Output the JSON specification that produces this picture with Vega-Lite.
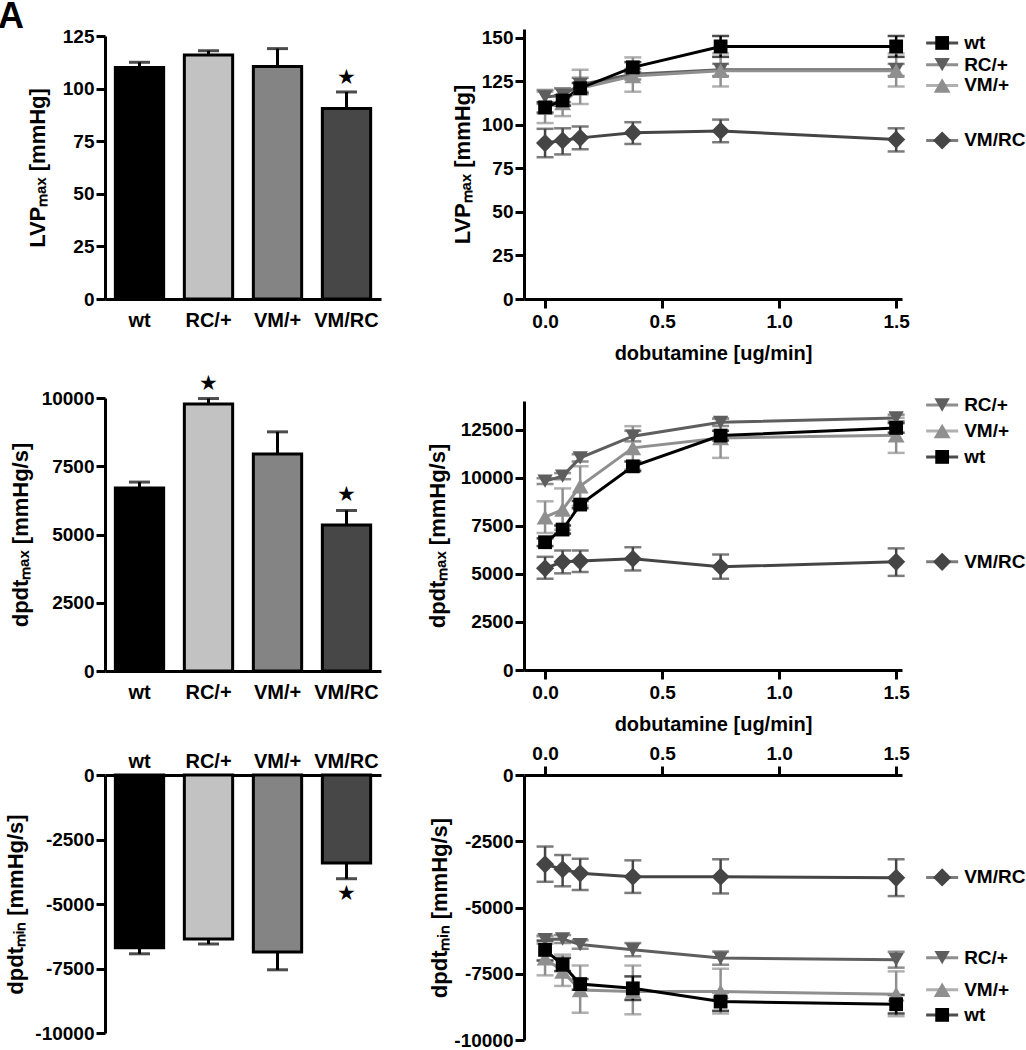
{
"$schema": "https://vega.github.io/schema/vega-lite/v6.json",
"padding": {"left": -3, "top": -1, "right": 0, "bottom": 0},
"title": {"text": "A", "anchor": "start", "frame": "bounds", "fontSize": 36, "fontWeight": "bold", "font": "Liberation Sans", "color": "black", "dx": -6, "offset": -9},
"config": {
  "view": {"stroke": null},
  "font": "Liberation Sans",
  "axis": {"grid": false, "domainColor": "black", "domainWidth": 3, "tickColor": "black", "tickWidth": 3, "tickSize": 9, "labelFont": "Liberation Sans", "labelFontWeight": "bold", "labelFontSize": 19, "labelColor": "black", "labelPadding": 2, "titleFont": "Liberation Sans", "titleFontWeight": "bold", "titleFontSize": 22, "titleColor": "black"}
},
"datasets": {
  "lvp_bar": [
    {"group": "wt", "mean": 110, "err_end": 112.5, "sig": false},
    {"group": "RC/+", "mean": 116, "err_end": 118, "sig": false},
    {"group": "VM/+", "mean": 110.5, "err_end": 119, "sig": false},
    {"group": "VM/RC", "mean": 90.5, "err_end": 98.4, "sig": true}
  ],
  "dpmax_bar": [
    {"group": "wt", "mean": 6700, "err_end": 6920, "sig": false},
    {"group": "RC/+", "mean": 9780, "err_end": 9980, "sig": true},
    {"group": "VM/+", "mean": 7950, "err_end": 8760, "sig": false},
    {"group": "VM/RC", "mean": 5350, "err_end": 5880, "sig": true}
  ],
  "dpmin_bar": [
    {"group": "wt", "mean": -6700, "err_end": -6930, "sig": false},
    {"group": "RC/+", "mean": -6360, "err_end": -6550, "sig": false},
    {"group": "VM/+", "mean": -6860, "err_end": -7550, "sig": false},
    {"group": "VM/RC", "mean": -3410, "err_end": -4020, "sig": true}
  ],
  "lvp_line": [
    {"series": "VM/RC", "dose": 0, "mean": 89.5, "lo": 81.4, "hi": 97.7},
    {"series": "VM/RC", "dose": 0.075, "mean": 91, "lo": 83, "hi": 98},
    {"series": "VM/RC", "dose": 0.15, "mean": 92.5, "lo": 86, "hi": 99},
    {"series": "VM/RC", "dose": 0.375, "mean": 95.5, "lo": 89, "hi": 101.5},
    {"series": "VM/RC", "dose": 0.75, "mean": 96.5, "lo": 90, "hi": 103},
    {"series": "VM/RC", "dose": 1.5, "mean": 91.5, "lo": 84.7, "hi": 98},
    {"series": "RC/+", "dose": 0, "mean": 116, "lo": 112, "hi": 120},
    {"series": "RC/+", "dose": 0.075, "mean": 117, "lo": 113, "hi": 121},
    {"series": "RC/+", "dose": 0.15, "mean": 123, "lo": 119, "hi": 127},
    {"series": "RC/+", "dose": 0.375, "mean": 129, "lo": 126, "hi": 132},
    {"series": "RC/+", "dose": 0.75, "mean": 131.6, "lo": 128, "hi": 135},
    {"series": "RC/+", "dose": 1.5, "mean": 131.6, "lo": 128, "hi": 135},
    {"series": "VM/+", "dose": 0, "mean": 110, "lo": 101, "hi": 119},
    {"series": "VM/+", "dose": 0.075, "mean": 112.6, "lo": 105, "hi": 121},
    {"series": "VM/+", "dose": 0.15, "mean": 121, "lo": 112, "hi": 131.6},
    {"series": "VM/+", "dose": 0.375, "mean": 128, "lo": 119, "hi": 138.7},
    {"series": "VM/+", "dose": 0.75, "mean": 131, "lo": 122, "hi": 141},
    {"series": "VM/+", "dose": 1.5, "mean": 131, "lo": 122, "hi": 141},
    {"series": "wt", "dose": 0, "mean": 110, "lo": 107, "hi": 113},
    {"series": "wt", "dose": 0.075, "mean": 114, "lo": 111, "hi": 117},
    {"series": "wt", "dose": 0.15, "mean": 121, "lo": 118, "hi": 124},
    {"series": "wt", "dose": 0.375, "mean": 133, "lo": 130, "hi": 136},
    {"series": "wt", "dose": 0.75, "mean": 145, "lo": 139, "hi": 151},
    {"series": "wt", "dose": 1.5, "mean": 145, "lo": 139, "hi": 151}
  ],
  "lvp_lab": [
    {"series": "wt", "at": 147},
    {"series": "RC/+", "at": 134.5},
    {"series": "VM/+", "at": 122.6},
    {"series": "VM/RC", "at": 91}
  ],
  "dpmax_line": [
    {"series": "VM/RC", "dose": 0, "mean": 5290, "lo": 4750, "hi": 5890},
    {"series": "VM/RC", "dose": 0.075, "mean": 5630, "lo": 5030, "hi": 6220},
    {"series": "VM/RC", "dose": 0.15, "mean": 5670, "lo": 5100, "hi": 6220},
    {"series": "VM/RC", "dose": 0.375, "mean": 5790, "lo": 5180, "hi": 6390},
    {"series": "VM/RC", "dose": 0.75, "mean": 5370, "lo": 4750, "hi": 6010},
    {"series": "VM/RC", "dose": 1.5, "mean": 5630, "lo": 4900, "hi": 6330},
    {"series": "RC/+", "dose": 0, "mean": 9830, "lo": 9680, "hi": 9980},
    {"series": "RC/+", "dose": 0.075, "mean": 10090, "lo": 9930, "hi": 10250},
    {"series": "RC/+", "dose": 0.15, "mean": 11040, "lo": 10850, "hi": 11230},
    {"series": "RC/+", "dose": 0.375, "mean": 12170, "lo": 11900, "hi": 12450},
    {"series": "RC/+", "dose": 0.75, "mean": 12890, "lo": 12700, "hi": 13080},
    {"series": "RC/+", "dose": 1.5, "mean": 13120, "lo": 12950, "hi": 13290},
    {"series": "VM/+", "dose": 0, "mean": 7950, "lo": 7130, "hi": 8780},
    {"series": "VM/+", "dose": 0.075, "mean": 8350, "lo": 7300, "hi": 9450},
    {"series": "VM/+", "dose": 0.15, "mean": 9570, "lo": 8550, "hi": 10600},
    {"series": "VM/+", "dose": 0.375, "mean": 11560, "lo": 10430, "hi": 12690},
    {"series": "VM/+", "dose": 0.75, "mean": 12080, "lo": 11040, "hi": 13100},
    {"series": "VM/+", "dose": 1.5, "mean": 12220, "lo": 11300, "hi": 13130},
    {"series": "wt", "dose": 0, "mean": 6650, "lo": 6450, "hi": 6850},
    {"series": "wt", "dose": 0.075, "mean": 7310, "lo": 7100, "hi": 7520},
    {"series": "wt", "dose": 0.15, "mean": 8610, "lo": 8420, "hi": 8800},
    {"series": "wt", "dose": 0.375, "mean": 10600, "lo": 10350, "hi": 10850},
    {"series": "wt", "dose": 0.75, "mean": 12200, "lo": 11950, "hi": 12450},
    {"series": "wt", "dose": 1.5, "mean": 12600, "lo": 12350, "hi": 12850}
  ],
  "dpmax_lab": [
    {"series": "RC/+", "at": 13790},
    {"series": "VM/+", "at": 12440},
    {"series": "wt", "at": 11090},
    {"series": "VM/RC", "at": 5630}
  ],
  "dpmin_line": [
    {"series": "VM/RC", "dose": 0, "mean": -3370, "lo": -4030, "hi": -2700},
    {"series": "VM/RC", "dose": 0.075, "mean": -3560, "lo": -4200, "hi": -3020},
    {"series": "VM/RC", "dose": 0.15, "mean": -3710, "lo": -4340, "hi": -3160},
    {"series": "VM/RC", "dose": 0.375, "mean": -3840, "lo": -4450, "hi": -3220},
    {"series": "VM/RC", "dose": 0.75, "mean": -3840, "lo": -4470, "hi": -3180},
    {"series": "VM/RC", "dose": 1.5, "mean": -3880, "lo": -4570, "hi": -3180},
    {"series": "RC/+", "dose": 0, "mean": -6210, "lo": -6360, "hi": -6060},
    {"series": "RC/+", "dose": 0.075, "mean": -6190, "lo": -6340, "hi": -6040},
    {"series": "RC/+", "dose": 0.15, "mean": -6400, "lo": -6560, "hi": -6240},
    {"series": "RC/+", "dose": 0.375, "mean": -6590, "lo": -6840, "hi": -6340},
    {"series": "RC/+", "dose": 0.75, "mean": -6910, "lo": -7160, "hi": -6660},
    {"series": "RC/+", "dose": 1.5, "mean": -6970, "lo": -7270, "hi": -6670},
    {"series": "VM/+", "dose": 0, "mean": -6910, "lo": -7560, "hi": -6090},
    {"series": "VM/+", "dose": 0.075, "mean": -7410, "lo": -7960, "hi": -6780},
    {"series": "VM/+", "dose": 0.15, "mean": -8110, "lo": -8970, "hi": -7190},
    {"series": "VM/+", "dose": 0.375, "mean": -8170, "lo": -9030, "hi": -7190},
    {"series": "VM/+", "dose": 0.75, "mean": -8170, "lo": -9000, "hi": -7310},
    {"series": "VM/+", "dose": 1.5, "mean": -8270, "lo": -9100, "hi": -7410},
    {"series": "wt", "dose": 0, "mean": -6600, "lo": -7000, "hi": -6250},
    {"series": "wt", "dose": 0.075, "mean": -7160, "lo": -7400, "hi": -6900},
    {"series": "wt", "dose": 0.15, "mean": -7890, "lo": -8100, "hi": -7700},
    {"series": "wt", "dose": 0.375, "mean": -8050, "lo": -8490, "hi": -7600},
    {"series": "wt", "dose": 0.75, "mean": -8550, "lo": -8900, "hi": -8200},
    {"series": "wt", "dose": 1.5, "mean": -8650, "lo": -9000, "hi": -8300}
  ],
  "dpmin_lab": [
    {"series": "VM/RC", "at": -3864},
    {"series": "RC/+", "at": -6894},
    {"series": "VM/+", "at": -8106},
    {"series": "wt", "at": -9053}
  ]
},
"columns": 2,
"align": "each",
"bounds": "flush",
"spacing": {"row": 99, "column": 143},
"concat": [
  {
    "width": 276, "height": 272,
    "data": {"name": "lvp_bar"},
    "encoding": {
      "x": {"field": "group", "type": "nominal", "sort": ["wt", "RC/+", "VM/+", "VM/RC"], "scale": {"paddingInner": 0.3, "paddingOuter": 0.15}, "axis": {"title": null, "ticks": false, "labelAngle": 0, "labelFontSize": 20, "labelPadding": 11}}
    },
    "layer": [
      {"mark": {"type": "rule", "strokeWidth": 3, "color": "black"},
       "encoding": {"y": {"field": "mean", "type": "quantitative", "scale": {"domain": [0, 125], "range": [272, 9], "nice": false}, "axis": {"title": "LVPₘₐₓ [mmHg]", "values": [0, 25, 50, 75, 100, 125], "titleX": -56}}, "y2": {"field": "err_end"}}},
      {"mark": {"type": "tick", "orient": "horizontal", "size": 21, "thickness": 3, "color": "black"},
       "encoding": {"y": {"field": "err_end", "type": "quantitative"}}},
      {"mark": {"type": "bar", "stroke": "black", "strokeWidth": 3},
       "encoding": {"y": {"field": "mean", "type": "quantitative"}, "fill": {"field": "group", "type": "nominal", "scale": {"domain": ["wt", "RC/+", "VM/+", "VM/RC"], "range": ["#000000", "#c2c2c2", "#848484", "#474747"]}, "legend": null}}},
      {"transform": [{"filter": "datum.sig"}],
       "mark": {"type": "text", "text": "★", "dy": -14, "fontSize": 21, "color": "black", "baseline": "middle"},
       "encoding": {"y": {"field": "err_end", "type": "quantitative"}}}
    ]
  },
  {
    "width": 378, "height": 272,
    "layer": [
      {
        "data": {"name": "lvp_line"},
        "encoding": {
          "x": {"field": "dose", "type": "quantitative", "scale": {"domain": [-0.09, 1.525], "nice": false, "zero": false}, "axis": {"title": "dobutamine [ug/min]", "titleFontSize": 20, "values": [0, 0.5, 1, 1.5], "format": ".1f", "labelPadding": 4, "titlePadding": 12}},
          "color": {"field": "series", "type": "nominal", "scale": {"domain": ["wt", "RC/+", "VM/+", "VM/RC"], "range": ["#000000", "#5e5e5e", "#8f8f8f", "#454545"]}, "legend": null}
        },
        "layer": [
          {"mark": {"type": "rule", "strokeWidth": 2.5},
           "encoding": {"y": {"field": "lo", "type": "quantitative", "scale": {"domain": [0, 155], "range": [272, 2], "nice": false}, "axis": {"title": "LVPₘₐₓ [mmHg]", "values": [0, 25, 50, 75, 100, 125, 150], "titleX": -50}}, "y2": {"field": "hi"}}},
          {"mark": {"type": "tick", "orient": "horizontal", "size": 17, "thickness": 2.5}, "encoding": {"y": {"field": "lo", "type": "quantitative"}}},
          {"mark": {"type": "tick", "orient": "horizontal", "size": 17, "thickness": 2.5}, "encoding": {"y": {"field": "hi", "type": "quantitative"}}},
          {"mark": {"type": "line", "strokeWidth": 3}, "encoding": {"y": {"field": "mean", "type": "quantitative"}}},
          {"mark": {"type": "point", "filled": true, "opacity": 1},
           "encoding": {"y": {"field": "mean", "type": "quantitative"},
             "shape": {"field": "series", "type": "nominal", "scale": {"domain": ["wt", "RC/+", "VM/+", "VM/RC"], "range": ["square", "triangle-down", "triangle-up", "diamond"]}, "legend": null},
             "size": {"field": "series", "type": "nominal", "scale": {"domain": ["wt", "RC/+", "VM/+", "VM/RC"], "range": [190, 330, 330, 290]}, "legend": null}}}
        ]
      },
      {
        "data": {"name": "lvp_lab"},
        "encoding": {
          "x": {"datum": 1.5, "type": "quantitative"},
          "y": {"field": "at", "type": "quantitative"},
          "color": {"field": "series", "type": "nominal", "legend": null}
        },
        "layer": [
          {"mark": {"type": "tick", "orient": "horizontal", "size": 32, "thickness": 3, "xOffset": 46}},
          {"mark": {"type": "point", "filled": true, "opacity": 1, "xOffset": 46},
           "encoding": {"shape": {"field": "series", "type": "nominal", "legend": null}, "size": {"field": "series", "type": "nominal", "legend": null}}},
          {"mark": {"type": "text", "dx": 68, "align": "left", "baseline": "middle", "fontSize": 19, "fontWeight": "bold", "font": "Liberation Sans"},
           "encoding": {"text": {"field": "series"}, "color": {"value": "black"}}}
        ]
      }
    ]
  },
  {
    "width": 276, "height": 278,
    "data": {"name": "dpmax_bar"},
    "encoding": {
      "x": {"field": "group", "type": "nominal", "sort": ["wt", "RC/+", "VM/+", "VM/RC"], "scale": {"paddingInner": 0.3, "paddingOuter": 0.15}, "axis": {"title": null, "ticks": false, "labelAngle": 0, "labelFontSize": 20, "labelPadding": 11, "offset": -5}}
    },
    "layer": [
      {"mark": {"type": "rule", "strokeWidth": 3, "color": "black"},
       "encoding": {"y": {"field": "mean", "type": "quantitative", "scale": {"domain": [0, 10000], "range": [273, 0], "nice": false}, "axis": {"title": "dpdtₘₐₓ [mmHg/s]", "values": [0, 2500, 5000, 7500, 10000], "format": "d", "titleX": -73}}, "y2": {"field": "err_end"}}},
      {"mark": {"type": "tick", "orient": "horizontal", "size": 21, "thickness": 3, "color": "black"},
       "encoding": {"y": {"field": "err_end", "type": "quantitative"}}},
      {"mark": {"type": "bar", "stroke": "black", "strokeWidth": 3},
       "encoding": {"y": {"field": "mean", "type": "quantitative"}, "fill": {"field": "group", "type": "nominal", "scale": {"domain": ["wt", "RC/+", "VM/+", "VM/RC"], "range": ["#000000", "#c2c2c2", "#848484", "#474747"]}, "legend": null}}},
      {"transform": [{"filter": "datum.sig"}],
       "mark": {"type": "text", "text": "★", "dy": -15, "fontSize": 21, "color": "black", "baseline": "middle"},
       "encoding": {"y": {"field": "err_end", "type": "quantitative"}}}
    ]
  },
  {
    "width": 378, "height": 278,
    "layer": [
      {
        "data": {"name": "dpmax_line"},
        "encoding": {
          "x": {"field": "dose", "type": "quantitative", "scale": {"domain": [-0.09, 1.525], "nice": false, "zero": false}, "axis": {"title": "dobutamine [ug/min]", "titleFontSize": 20, "values": [0, 0.5, 1, 1.5], "format": ".1f", "labelPadding": 4, "titlePadding": 12, "offset": -6}},
          "color": {"field": "series", "type": "nominal", "scale": {"domain": ["wt", "RC/+", "VM/+", "VM/RC"], "range": ["#000000", "#5e5e5e", "#8f8f8f", "#454545"]}, "legend": null}
        },
        "layer": [
          {"mark": {"type": "rule", "strokeWidth": 2.5},
           "encoding": {"y": {"field": "lo", "type": "quantitative", "scale": {"domain": [0, 14000], "range": [272, 3], "nice": false}, "axis": {"title": "dpdtₘₐₓ [mmHg/s]", "values": [0, 2500, 5000, 7500, 10000, 12500], "format": "d", "titleX": -75}}, "y2": {"field": "hi"}}},
          {"mark": {"type": "tick", "orient": "horizontal", "size": 17, "thickness": 2.5}, "encoding": {"y": {"field": "lo", "type": "quantitative"}}},
          {"mark": {"type": "tick", "orient": "horizontal", "size": 17, "thickness": 2.5}, "encoding": {"y": {"field": "hi", "type": "quantitative"}}},
          {"mark": {"type": "line", "strokeWidth": 3}, "encoding": {"y": {"field": "mean", "type": "quantitative"}}},
          {"mark": {"type": "point", "filled": true, "opacity": 1},
           "encoding": {"y": {"field": "mean", "type": "quantitative"},
             "shape": {"field": "series", "type": "nominal", "scale": {"domain": ["wt", "RC/+", "VM/+", "VM/RC"], "range": ["square", "triangle-down", "triangle-up", "diamond"]}, "legend": null},
             "size": {"field": "series", "type": "nominal", "scale": {"domain": ["wt", "RC/+", "VM/+", "VM/RC"], "range": [190, 330, 330, 290]}, "legend": null}}}
        ]
      },
      {
        "data": {"name": "dpmax_lab"},
        "encoding": {
          "x": {"datum": 1.5, "type": "quantitative"},
          "y": {"field": "at", "type": "quantitative"},
          "color": {"field": "series", "type": "nominal", "legend": null}
        },
        "layer": [
          {"mark": {"type": "tick", "orient": "horizontal", "size": 32, "thickness": 3, "xOffset": 46}},
          {"mark": {"type": "point", "filled": true, "opacity": 1, "xOffset": 46},
           "encoding": {"shape": {"field": "series", "type": "nominal", "legend": null}, "size": {"field": "series", "type": "nominal", "legend": null}}},
          {"mark": {"type": "text", "dx": 68, "align": "left", "baseline": "middle", "fontSize": 19, "fontWeight": "bold", "font": "Liberation Sans"},
           "encoding": {"text": {"field": "series"}, "color": {"value": "black"}}}
        ]
      }
    ]
  },
  {
    "width": 276, "height": 265,
    "data": {"name": "dpmin_bar"},
    "encoding": {
      "x": {"field": "group", "type": "nominal", "sort": ["wt", "RC/+", "VM/+", "VM/RC"], "scale": {"paddingInner": 0.3, "paddingOuter": 0.15}, "axis": {"title": null, "orient": "top", "ticks": false, "labelAngle": 0, "labelFontSize": 20, "labelPadding": 4}}
    },
    "layer": [
      {"mark": {"type": "rule", "strokeWidth": 3, "color": "black"},
       "encoding": {"y": {"field": "mean", "type": "quantitative", "scale": {"domain": [-10000, 0], "range": [258, 0], "nice": false}, "axis": {"title": "dpdtₘᵢₙ [mmHg/s]", "values": [-10000, -7500, -5000, -2500, 0], "labelExpr": "datum.value + ''", "titleX": -78}}, "y2": {"field": "err_end"}}},
      {"mark": {"type": "tick", "orient": "horizontal", "size": 21, "thickness": 3, "color": "black"},
       "encoding": {"y": {"field": "err_end", "type": "quantitative"}}},
      {"mark": {"type": "bar", "stroke": "black", "strokeWidth": 3},
       "encoding": {"y": {"field": "mean", "type": "quantitative"}, "fill": {"field": "group", "type": "nominal", "scale": {"domain": ["wt", "RC/+", "VM/+", "VM/RC"], "range": ["#000000", "#c2c2c2", "#848484", "#474747"]}, "legend": null}}},
      {"transform": [{"filter": "datum.sig"}],
       "mark": {"type": "text", "text": "★", "dy": 15, "fontSize": 21, "color": "black", "baseline": "middle"},
       "encoding": {"y": {"field": "err_end", "type": "quantitative"}}}
    ]
  },
  {
    "width": 378, "height": 265,
    "layer": [
      {
        "data": {"name": "dpmin_line"},
        "encoding": {
          "x": {"field": "dose", "type": "quantitative", "scale": {"domain": [-0.09, 1.525], "nice": false, "zero": false}, "axis": {"title": null, "orient": "top", "values": [0, 0.5, 1, 1.5], "format": ".1f", "labelPadding": 3}},
          "color": {"field": "series", "type": "nominal", "scale": {"domain": ["wt", "RC/+", "VM/+", "VM/RC"], "range": ["#000000", "#5e5e5e", "#8f8f8f", "#454545"]}, "legend": null}
        },
        "layer": [
          {"mark": {"type": "rule", "strokeWidth": 2.5},
           "encoding": {"y": {"field": "lo", "type": "quantitative", "scale": {"domain": [-10000, 0], "range": [265, 0], "nice": false}, "axis": {"title": "dpdtₘᵢₙ [mmHg/s]", "values": [-10000, -7500, -5000, -2500, 0], "labelExpr": "datum.value + ''", "titleX": -73}}, "y2": {"field": "hi"}}},
          {"mark": {"type": "tick", "orient": "horizontal", "size": 17, "thickness": 2.5}, "encoding": {"y": {"field": "lo", "type": "quantitative"}}},
          {"mark": {"type": "tick", "orient": "horizontal", "size": 17, "thickness": 2.5}, "encoding": {"y": {"field": "hi", "type": "quantitative"}}},
          {"mark": {"type": "line", "strokeWidth": 3}, "encoding": {"y": {"field": "mean", "type": "quantitative"}}},
          {"mark": {"type": "point", "filled": true, "opacity": 1},
           "encoding": {"y": {"field": "mean", "type": "quantitative"},
             "shape": {"field": "series", "type": "nominal", "scale": {"domain": ["wt", "RC/+", "VM/+", "VM/RC"], "range": ["square", "triangle-down", "triangle-up", "diamond"]}, "legend": null},
             "size": {"field": "series", "type": "nominal", "scale": {"domain": ["wt", "RC/+", "VM/+", "VM/RC"], "range": [190, 330, 330, 290]}, "legend": null}}}
        ]
      },
      {
        "data": {"name": "dpmin_lab"},
        "encoding": {
          "x": {"datum": 1.5, "type": "quantitative"},
          "y": {"field": "at", "type": "quantitative"},
          "color": {"field": "series", "type": "nominal", "legend": null}
        },
        "layer": [
          {"mark": {"type": "tick", "orient": "horizontal", "size": 32, "thickness": 3, "xOffset": 46}},
          {"mark": {"type": "point", "filled": true, "opacity": 1, "xOffset": 46},
           "encoding": {"shape": {"field": "series", "type": "nominal", "legend": null}, "size": {"field": "series", "type": "nominal", "legend": null}}},
          {"mark": {"type": "text", "dx": 68, "align": "left", "baseline": "middle", "fontSize": 19, "fontWeight": "bold", "font": "Liberation Sans"},
           "encoding": {"text": {"field": "series"}, "color": {"value": "black"}}}
        ]
      }
    ]
  }
]
}
